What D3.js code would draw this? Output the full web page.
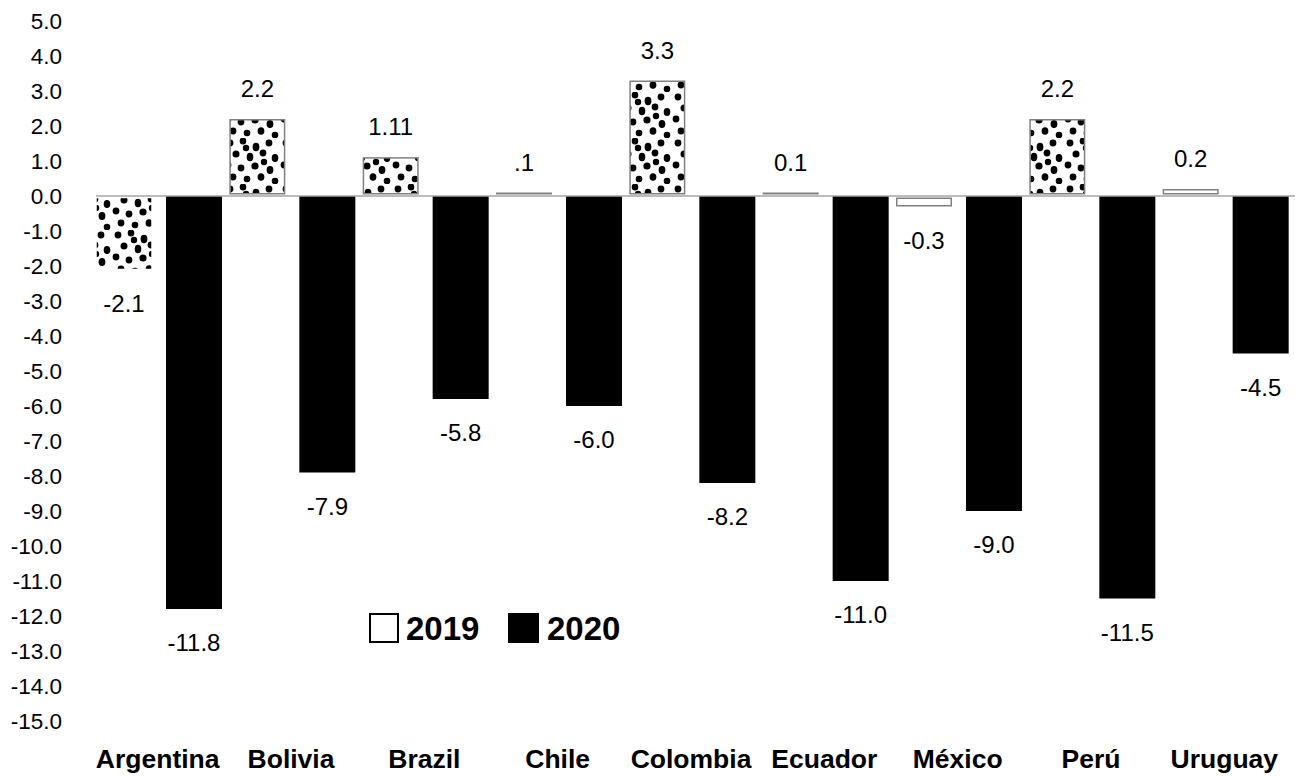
<!DOCTYPE html>
<html>
<head>
<meta charset="utf-8">
<script src="https://cdn.jsdelivr.net/npm/d3@7"></script>
<style>
  body { margin: 0; background: #fff; }
  svg { display: block; }
  text { font-family: "Liberation Sans", Arial, Helvetica, sans-serif; fill: #000; }
</style>
</head>
<body>
<svg id="chart" width="1295" height="776"></svg>
<script>
// GDP growth by country, 2019 vs 2020 (%)
const categories = ["Argentina", "Bolivia", "Brazil", "Chile", "Colombia", "Ecuador", "México", "Perú", "Uruguay"];
const seriesNames = ["2019", "2020"];
const labels2019 = ["-2.1", "2.2", "1.11", ".1", "3.3", "0.1", "-0.3", "2.2", "0.2"];
const labels2020 = ["-11.8", "-7.9", "-5.8", "-6.0", "-8.2", "-11.0", "-9.0", "-11.5", "-4.5"];
const values2019 = labels2019.map(Number);
const values2020 = labels2020.map(Number);
const tickValues = [5, 4, 3, 2, 1, 0, -1, -2, -3, -4, -5, -6, -7, -8, -9, -10, -11, -12, -13, -14, -15];

const svg = d3.select("#chart");

const y = d3.scaleLinear().domain([-15, 5]).range([721, 21]);
const x0 = d3.scaleBand().domain(categories).range([96, 1296]);
const x1 = d3.scaleBand().domain(seriesNames).range([0, 126]).paddingInner(0.2);
const bw = x1.bandwidth();

const fmt = d3.formatLocale({ decimal: ".", thousands: ",", grouping: [3], currency: ["", ""], minus: "-" }).format(".1f");

// dotted fill for the 2019 bars
const defs = svg.append("defs");
const pat = defs.append("pattern")
  .attr("id", "dots")
  .attr("patternUnits", "userSpaceOnUse")
  .attr("width", 56).attr("height", 46);
pat.append("rect").attr("width", 56).attr("height", 46).attr("fill", "#fff");
const dotSpots = [
  [6, 5, 3.4, 3.4], [19, 3, 3.3, 3.6], [32, 9, 3.4, 4.2], [45, 5, 3.4, 3.4],
  [12, 16, 3.5, 3.5], [26, 19, 3.3, 4.3], [39, 15, 3.4, 3.4], [51, 20, 3.3, 3.9],
  [4, 27, 3.4, 3.4], [17, 30, 3.4, 3.4], [31, 28, 3.6, 3.6], [46, 32, 3.4, 4.1],
  [9, 39, 3.4, 3.4], [23, 41, 3.3, 3.3], [37, 39, 3.4, 3.8], [51, 43, 3.3, 3.3],
  [22, 10, 3.2, 3.2], [40, 24, 3.2, 3.2]
];
pat.selectAll("ellipse").data(dotSpots).join("ellipse")
  .attr("cx", d => d[0]).attr("cy", d => d[1])
  .attr("rx", d => d[2]).attr("ry", d => d[3])
  .attr("fill", "#000");

// y axis labels
const yAxis = svg.append("g")
  .attr("transform", "translate(62,0)")
  .call(d3.axisLeft(y).tickValues(tickValues).tickFormat(fmt).tickSize(0).tickPadding(0));
yAxis.select(".domain").remove();
yAxis.selectAll("text").attr("font-size", 22.5).attr("font-family", null).attr("fill", "#000");

// category labels
const xAxis = svg.append("g")
  .attr("transform", "translate(-5,749)")
  .call(d3.axisBottom(x0).tickSize(0).tickPadding(0));
xAxis.select(".domain").remove();
xAxis.selectAll("text").attr("font-size", 26.5).attr("font-weight", "bold").attr("font-family", null).attr("fill", "#000");

// 2020 bars
svg.append("g").selectAll("rect")
  .data(categories.map((c, i) => ({ c, v: values2020[i], label: labels2020[i] })))
  .join("rect")
  .attr("x", d => x0(d.c) + x1("2020"))
  .attr("width", bw)
  .attr("y", d => Math.min(y(0), y(d.v)))
  .attr("height", d => Math.abs(y(d.v) - y(0)))
  .attr("fill", "#000");

// 2019 bars (outline drawn just inside the bar; the first one is unframed)
svg.append("g").selectAll("rect")
  .data(categories.map((c, i) => ({ c, i, v: values2019[i], label: labels2019[i] })))
  .join("rect")
  .attr("x", d => x0(d.c) + x1("2019") + 0.75)
  .attr("width", bw - 1.5)
  .attr("y", d => Math.min(y(0), y(d.v)) + 0.75 + (d.v >= 0 ? 0 : 1.5))
  .attr("height", d => Math.max(0.5, Math.abs(y(d.v) - y(0)) - 3))
  .attr("fill", d => Math.abs(d.v) > 0.5 ? "url(#dots)" : "#fff")
  .attr("stroke", d => d.i === 0 ? "none" : "#808080")
  .attr("stroke-width", 1.5);

// zero line
svg.append("line")
  .attr("x1", 96).attr("x2", 1295)
  .attr("y1", y(0)).attr("y2", y(0))
  .attr("stroke", "#a6a6a6").attr("stroke-width", 1.5);

// value labels
function addLabels(vals, labs, key) {
  svg.append("g").selectAll("text")
    .data(categories.map((c, i) => ({ c, v: vals[i], label: labs[i] })))
    .join("text")
    .attr("x", d => x0(d.c) + x1(key) + bw / 2)
    .attr("y", d => d.v >= 0 ? y(d.v) - 22 : y(d.v) + 42)
    .attr("text-anchor", "middle")
    .attr("font-size", 24)
    .text(d => d.label);
}
addLabels(values2019, labels2019, "2019");
addLabels(values2020, labels2020, "2020");

// legend
const legend = svg.append("g");
legend.append("rect").attr("x", 370).attr("y", 614).attr("width", 28).attr("height", 28)
  .attr("fill", "#fff").attr("stroke", "#000").attr("stroke-width", 2);
legend.append("text").attr("x", 406).attr("y", 640).attr("font-size", 33).attr("font-weight", "bold").text(seriesNames[0]);
legend.append("rect").attr("x", 508).attr("y", 613).attr("width", 31).attr("height", 30).attr("fill", "#000");
legend.append("text").attr("x", 547).attr("y", 640).attr("font-size", 33).attr("font-weight", "bold").text(seriesNames[1]);
</script>
</body>
</html>
